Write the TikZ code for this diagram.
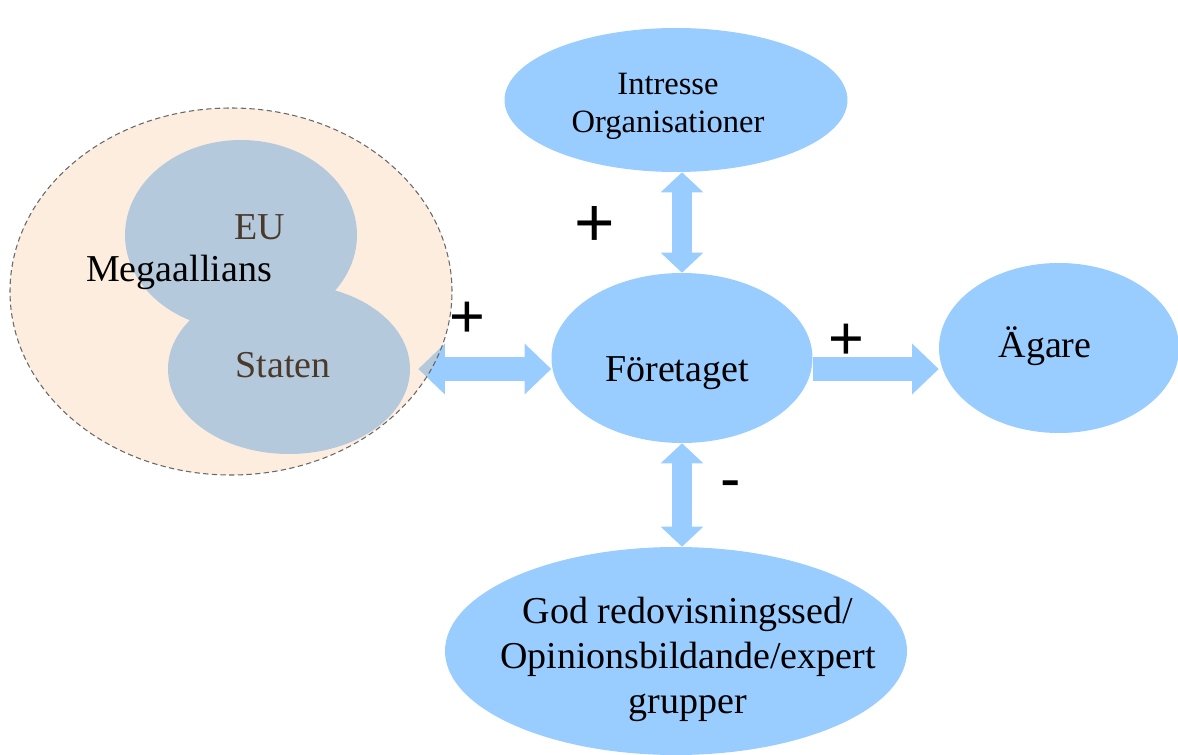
\documentclass[tikz,border=0pt]{standalone}
\usepackage{fontspec}
\setmainfont{Liberation Serif}
\newfontfamily\signfont{Liberation Sans}
\usetikzlibrary{shapes.geometric,arrows.meta}

\definecolor{ellblue}{RGB}{153,204,255}
\definecolor{megatan}{RGB}{248,195,145}
\definecolor{dashgray}{RGB}{105,105,105}

\tikzset{
  blob/.style={ellipse, fill=ellblue, draw=none, inner sep=0pt},
  lbl/.style={font=\fontsize{28.5}{34}\selectfont, inner sep=0pt, anchor=base},
  sign/.style={font=\signfont\fontsize{46}{46}\selectfont, inner sep=0pt},
  fattip/.tip={Triangle[length=15pt,width=31pt]},
  widetip/.tip={Triangle[length=20pt,width=37pt]},
  fatboth/.style={draw=ellblue, line width=15pt, fattip-fattip},
  wideboth/.style={draw=ellblue, line width=18pt, widetip-widetip},
  wideone/.style={draw=ellblue, line width=18pt, -widetip},
}

\begin{document}
\begin{tikzpicture}[x=0.75pt,y=0.75pt,yscale=-1,xscale=1]
  \useasboundingbox (0,0) rectangle (1178,755);

  % ellipses
  \node[blob, minimum width=257.25pt, minimum height=108pt] (intr) at (676,100) {};
  \node[blob, minimum width=195.75pt, minimum height=127.5pt] (foret) at (682,358) {};
  \node[blob, minimum width=180pt, minimum height=127.5pt] (agare) at (1059,348) {};
  \node[blob, minimum width=346.5pt, minimum height=156pt] (grupp) at (676,651) {};
  \node[blob, minimum width=174pt, minimum height=142.5pt] (eu) at (241,235) {};
  \node[blob, minimum width=181.5pt, minimum height=127.5pt] (staten) at (289,369) {};

  % texts
  \node[font=\fontsize{24.4}{28.5}\selectfont, align=center, inner sep=0pt] (intr-txt) at (668,106) {Intresse\\Organisationer};
  \node[lbl] (foret-txt) at (677,382) {Företaget};
  \node[lbl] (agare-txt) at (1045,358) {Ägare};
  \node[font=\fontsize{28.5}{33.75}\selectfont, align=center, inner sep=0pt] (grupp-txt) at (688,659) {God redovisningssed/\\Opinionsbildande/expert\\grupper};
  \node[lbl] (eu-txt) at (260,240) {EU};
  \node[lbl] (staten-txt) at (283,378) {Staten};

  % arrows
  \draw[fatboth] (intr.south -| foret.north) -- (foret.north);
  \draw[fatboth] (foret.south) -- (foret.south |- grupp.north);
  \draw[wideboth, shorten <=6pt] (staten.east) -- (staten.east -| foret.west);
  \draw[wideone] (foret.east |- staten.east) -- (agare.west |- staten.east);

  % megaallians
  \node[ellipse, inner sep=0pt, minimum width=331.5pt, minimum height=275.25pt,
        fill=megatan, fill opacity=0.3, draw=dashgray, line width=0.8pt,
        dash pattern=on 4pt off 2.5pt] (mega) at (231,291.5) {};
  \node[lbl] (mega-txt) at (179,282) {Megaallians};

  % signs
  \node[sign, font=\signfont\fontsize{52}{52}\selectfont] (plus-top) at (595,226) {+};
  \node[sign] (plus-left) at (467,320) {+};
  \node[sign] (plus-right) at (846,342) {+};
  \node[sign] (minus-bot) at (731,490) {-};
\end{tikzpicture}
\end{document}
